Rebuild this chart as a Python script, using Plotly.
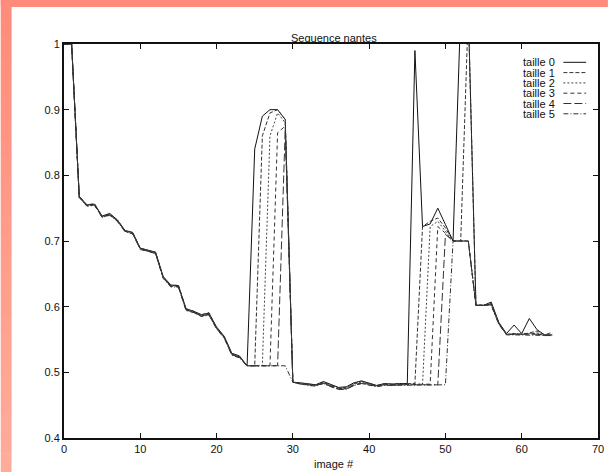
import plotly.graph_objects as go

# ---------------- data ----------------
frames = list(range(0, 65))

taille0 = [1.000, 1.000, 0.768, 0.755, 0.756, 0.738, 0.742, 0.732, 0.716, 0.713,
           0.689, 0.686, 0.683, 0.646, 0.633, 0.632, 0.597, 0.593, 0.588, 0.590,
           0.569, 0.555, 0.529, 0.525, 0.510, 0.840, 0.890, 0.900, 0.900, 0.885,
           0.485, 0.484, 0.482, 0.481, 0.486, 0.481, 0.477, 0.478, 0.484, 0.487,
           0.484, 0.480, 0.483, 0.482, 0.483, 0.483, 0.990, 0.722, 0.726, 0.750,
           0.725, 0.700, 1.050, 1.050, 0.602, 0.602, 0.607, 0.576, 0.559, 0.572,
           0.559, 0.582, 0.565, 0.557, 0.557]

taille1 = [1.000, 1.000, 0.768, 0.755, 0.757, 0.737, 0.741, 0.732, 0.716, 0.713,
           0.689, 0.686, 0.683, 0.645, 0.632, 0.633, 0.596, 0.593, 0.587, 0.591,
           0.568, 0.554, 0.528, 0.524, 0.510, 0.510, 0.860, 0.895, 0.900, 0.885,
           0.485, 0.483, 0.482, 0.481, 0.485, 0.480, 0.476, 0.477, 0.483, 0.486,
           0.483, 0.480, 0.482, 0.482, 0.483, 0.483, 0.483, 0.722, 0.730, 0.735,
           0.720, 0.700, 0.700, 1.050, 0.602, 0.602, 0.605, 0.575, 0.558, 0.559,
           0.558, 0.560, 0.563, 0.557, 0.561]

taille2 = [1.000, 1.000, 0.767, 0.754, 0.756, 0.737, 0.740, 0.731, 0.715, 0.712,
           0.688, 0.686, 0.682, 0.645, 0.632, 0.631, 0.596, 0.592, 0.587, 0.589,
           0.568, 0.554, 0.528, 0.524, 0.510, 0.510, 0.510, 0.860, 0.895, 0.880,
           0.485, 0.483, 0.481, 0.480, 0.484, 0.480, 0.475, 0.476, 0.482, 0.485,
           0.482, 0.479, 0.482, 0.481, 0.482, 0.482, 0.482, 0.482, 0.722, 0.730,
           0.715, 0.700, 0.700, 0.700, 0.602, 0.602, 0.604, 0.575, 0.558, 0.558,
           0.558, 0.559, 0.560, 0.557, 0.557]

taille3 = [1.000, 1.000, 0.767, 0.754, 0.755, 0.737, 0.740, 0.731, 0.715, 0.712,
           0.688, 0.685, 0.682, 0.644, 0.631, 0.631, 0.595, 0.592, 0.586, 0.588,
           0.567, 0.553, 0.527, 0.523, 0.510, 0.510, 0.510, 0.510, 0.865, 0.875,
           0.485, 0.483, 0.481, 0.480, 0.484, 0.479, 0.475, 0.475, 0.481, 0.484,
           0.482, 0.479, 0.481, 0.481, 0.482, 0.482, 0.482, 0.482, 0.482, 0.722,
           0.712, 0.700, 0.700, 0.700, 0.602, 0.602, 0.603, 0.574, 0.558, 0.558,
           0.558, 0.558, 0.559, 0.556, 0.557]

taille4 = [1.000, 1.000, 0.766, 0.754, 0.755, 0.736, 0.740, 0.730, 0.715, 0.711,
           0.688, 0.685, 0.681, 0.644, 0.631, 0.630, 0.595, 0.591, 0.586, 0.588,
           0.567, 0.553, 0.527, 0.523, 0.510, 0.510, 0.510, 0.510, 0.510, 0.870,
           0.485, 0.482, 0.481, 0.480, 0.483, 0.479, 0.474, 0.475, 0.480, 0.483,
           0.481, 0.479, 0.481, 0.480, 0.481, 0.481, 0.481, 0.481, 0.481, 0.481,
           0.710, 0.700, 0.700, 0.700, 0.602, 0.602, 0.603, 0.574, 0.558, 0.558,
           0.558, 0.558, 0.558, 0.556, 0.556]

taille5 = [1.000, 1.000, 0.766, 0.753, 0.754, 0.736, 0.739, 0.730, 0.714, 0.711,
           0.687, 0.684, 0.681, 0.643, 0.630, 0.630, 0.594, 0.591, 0.585, 0.587,
           0.566, 0.552, 0.526, 0.522, 0.510, 0.510, 0.510, 0.510, 0.510, 0.510,
           0.485, 0.482, 0.480, 0.479, 0.483, 0.478, 0.474, 0.474, 0.480, 0.483,
           0.481, 0.478, 0.480, 0.480, 0.481, 0.481, 0.481, 0.481, 0.481, 0.481,
           0.481, 0.700, 0.700, 0.700, 0.602, 0.602, 0.602, 0.573, 0.557, 0.557,
           0.557, 0.557, 0.557, 0.556, 0.556]

series_names = ["taille 0", "taille 1", "taille 2", "taille 3", "taille 4", "taille 5"]
series_values = [taille0, taille1, taille2, taille3, taille4, taille5]

x_ticks = [0, 10, 20, 30, 40, 50, 60, 70]
y_ticks = [0.4, 0.5, 0.6, 0.7, 0.8, 0.9, 1.0]
y_tick_labels = ["0.4", "0.5", "0.6", "0.7", "0.8", "0.9", "1"]

title_text = "Sequence nantes"
xlabel_text = "image #"

# ---------------- styles ----------------
W, H = 614, 472
ML, MR, MT, MB = 64, 10, 44, 34
PW, PH = W - ML - MR, H - MT - MB

dashes = ["solid", "4px,2px", "2px,2px", "4px,3px", "8px,3px", "5px,2px,1px,2px"]
colors = ["#111111", "#333333", "#444444", "#333333", "#333333", "#333333"]
FONT = "Liberation Sans, Arial, Helvetica, sans-serif"


def px(xp):
    return (xp - ML) / PW


def py(yp):
    return (H - MB - yp) / PH


fig = go.Figure()
for name, vals, d, c in zip(series_names, series_values, dashes, colors):
    fig.add_trace(go.Scatter(x=frames, y=vals, mode="lines", name=name,
                             line=dict(color=c, width=1, dash=d),
                             showlegend=False, cliponaxis=True))

shapes = []
annotations = []

# page border strips (salmon)
top_rgb = (255, 140, 122)
bot_rgb = (255, 172, 155)
nstrip = 24
for i in range(nstrip):
    t = i / (nstrip - 1)
    r = int(top_rgb[0] + (bot_rgb[0] - top_rgb[0]) * t)
    g = int(top_rgb[1] + (bot_rgb[1] - top_rgb[1]) * t)
    b = int(top_rgb[2] + (bot_rgb[2] - top_rgb[2]) * t)
    y0 = H * i / nstrip
    y1 = H * (i + 1) / nstrip + 0.5
    shapes.append(dict(type="rect", xref="paper", yref="paper",
                       x0=px(0), x1=px(11), y0=py(y1), y1=py(y0),
                       fillcolor=f"rgb({r},{g},{b})", line=dict(width=0), layer="below"))
shapes.append(dict(type="rect", xref="paper", yref="paper",
                   x0=px(0), x1=px(W), y0=py(7), y1=py(0),
                   fillcolor="rgb(255,140,122)", line=dict(width=0), layer="below"))

# legend (gnuplot style: text then sample)
leg_y = [62.3, 72.6, 82.9, 93.2, 103.5, 113.8]
for name, d, c, yy in zip(series_names, dashes, colors, leg_y):
    annotations.append(dict(xref="paper", yref="paper", x=px(526), y=py(yy),
                            text=name, showarrow=False, xanchor="left", yanchor="middle",
                            font=dict(family=FONT, size=11, color="#111")))
    shapes.append(dict(type="line", xref="paper", yref="paper",
                       x0=px(569), x1=px(592), y0=py(yy), y1=py(yy),
                       line=dict(color=c, width=1, dash=d)))

annotations.append(dict(xref="paper", yref="paper", x=px(337), y=py(38),
                        text=title_text, showarrow=False, xanchor="center", yanchor="middle",
                        font=dict(family=FONT, size=11, color="#111")))
annotations.append(dict(xref="paper", yref="paper", x=px(337), y=py(464),
                        text=xlabel_text, showarrow=False, xanchor="center", yanchor="middle",
                        font=dict(family=FONT, size=11, color="#111")))

fig.update_layout(
    width=W, height=H,
    margin=dict(l=ML, r=MR, t=MT, b=MB, pad=0),
    paper_bgcolor="white", plot_bgcolor="white",
    shapes=shapes, annotations=annotations,
    font=dict(family=FONT, size=11, color="#111"),
    xaxis=dict(range=[0, 70], tickvals=x_ticks, ticks="inside", ticklen=5, tickcolor="#111",
               showline=True, linecolor="#111", linewidth=2, mirror="allticks",
               showgrid=False, zeroline=False, tickfont=dict(size=11)),
    yaxis=dict(range=[0.4, 1.0], tickvals=y_ticks, ticktext=y_tick_labels, ticks="inside",
               ticklen=5, tickcolor="#111",
               showline=True, linecolor="#111", linewidth=2, mirror="allticks",
               showgrid=False, zeroline=False, tickfont=dict(size=11)),
)

fig.write_html("out.html")
